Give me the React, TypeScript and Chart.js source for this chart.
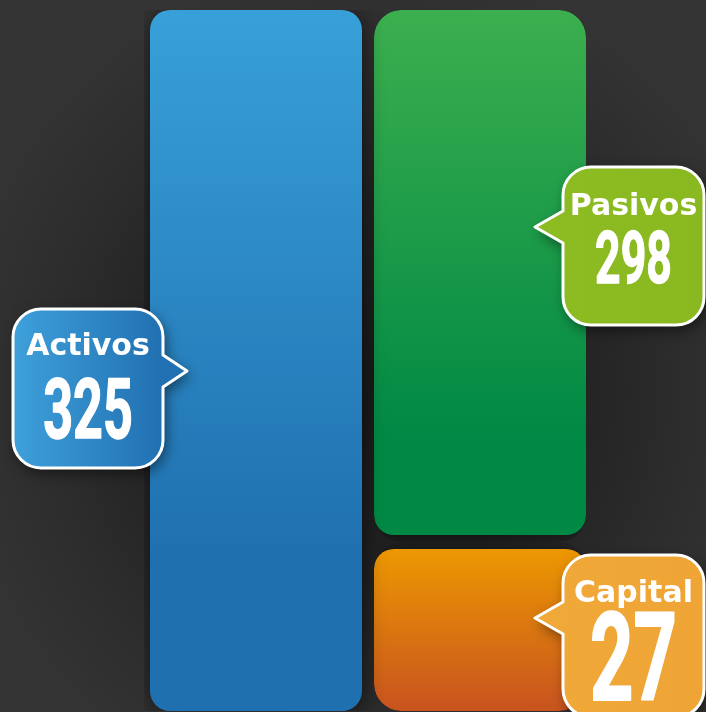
import React, { useEffect, useRef } from "react";
import { Chart, registerables } from "chart.js";

Chart.register(...registerables);

// ---- data ----
const categories = ["Activos", "Pasivos + Capital"];
const seriesLabels = ["Activos", "Capital", "Pasivos"];
const activosValues = [325, null];
const capitalValues = [null, 27];
const pasivosValues = [null, 298];

const W = 706;
const H = 712;

type Callout = {
  dataset: number;
  index: number;
  side: "left" | "right";
  fill: string[];
  anchor: number;
  w: number;
  h: number;
  labelY: number;
  numY: number;
  numSize: number;
  tipInset: number;
  tipLen: number;
  tipOffY: number;
};

const callouts: Callout[] = [
  { dataset: 0, index: 0, side: "left", fill: ["#3ea0da", "#2170b1"], anchor: 0.515, w: 150, h: 159, labelY: 46, numY: 129, numSize: 84, tipInset: 37, tipLen: 24, tipOffY: 62 },
  { dataset: 2, index: 1, side: "right", fill: ["#8dbb22", "#8ab820"], anchor: 0.408, w: 141, h: 158, labelY: 48, numY: 116, numSize: 72, tipInset: 51, tipLen: 28, tipOffY: 60 },
  { dataset: 1, index: 1, side: "right", fill: ["#f0a838", "#eea535"], anchor: 0.45, w: 141, h: 162, labelY: 47, numY: 145, numSize: 122, tipInset: 51, tipLen: 28, tipOffY: 63 },
];

const datasetValues = [activosValues, capitalValues, pasivosValues];

const radiusAll = (r: number) => ({ topLeft: r, topRight: r, bottomLeft: r, bottomRight: r });

function vGrad(ctx: any, chart: any, fromVal: number, toVal: number, stops: [number, string][]) {
  const { chartArea, scales } = chart;
  if (!chartArea || !scales || !scales.y) return stops[0][1];
  const y0 = scales.y.getPixelForValue(fromVal);
  const y1 = scales.y.getPixelForValue(toVal);
  const g = ctx.createLinearGradient(0, y0, 0, y1);
  stops.forEach(([o, c]) => g.addColorStop(o, c));
  return g;
}

function calloutPath(ctx: CanvasRenderingContext2D, L: number, T: number, w: number, h: number, r: number, side: "left" | "right", tipX: number, tipY: number) {
  const R = L + w;
  const B = T + h;
  const hb = 16;
  ctx.beginPath();
  ctx.moveTo(L + r, T);
  ctx.lineTo(R - r, T);
  ctx.arcTo(R, T, R, T + r, r);
  if (side === "left") {
    ctx.lineTo(R, tipY - hb);
    ctx.lineTo(tipX, tipY);
    ctx.lineTo(R, tipY + hb);
  }
  ctx.lineTo(R, B - r);
  ctx.arcTo(R, B, R - r, B, r);
  ctx.lineTo(L + r, B);
  ctx.arcTo(L, B, L, B - r, r);
  if (side === "right") {
    ctx.lineTo(L, tipY + hb);
    ctx.lineTo(tipX, tipY);
    ctx.lineTo(L, tipY - hb);
  }
  ctx.lineTo(L, T + r);
  ctx.arcTo(L, T, L + r, T, r);
  ctx.closePath();
}

const shadowPlugin = {
  id: "barShadow",
  beforeDatasetsDraw(chart: any) {
    const ctx = chart.ctx;
    ctx.save();
    ctx.shadowColor = "rgba(0,0,0,0.55)";
    ctx.shadowBlur = 22;
    ctx.shadowOffsetX = 0;
    ctx.shadowOffsetY = 2;
  },
  afterDatasetsDraw(chart: any) {
    chart.ctx.restore();
  },
};

const calloutPlugin = {
  id: "callouts",
  afterDraw(chart: any) {
    const ctx: CanvasRenderingContext2D = chart.ctx;
    callouts.forEach((c) => {
      const el = chart.getDatasetMeta(c.dataset).data[c.index];
      if (!el) return;
      const p = el.getProps(["x", "y", "base", "width"], true);
      const top = Math.min(p.y, p.base);
      const bottom = Math.max(p.y, p.base);
      const tipY = top + c.anchor * (bottom - top);
      let tipX: number, L: number;
      if (c.side === "left") {
        tipX = p.x - p.width / 2 + c.tipInset;
        L = tipX - c.tipLen - c.w;
      } else {
        tipX = p.x + p.width / 2 - c.tipInset;
        L = tipX + c.tipLen;
      }
      const T = tipY - c.tipOffY;
      const r = 28;

      ctx.save();
      calloutPath(ctx, L, T, c.w, c.h, r, c.side, tipX, tipY);
      const g = ctx.createLinearGradient(L, T, L + c.w, T);
      g.addColorStop(0, c.fill[0]);
      g.addColorStop(1, c.fill[1]);
      ctx.shadowColor = "rgba(0,0,0,0.5)";
      ctx.shadowBlur = 14;
      ctx.shadowOffsetX = 3;
      ctx.shadowOffsetY = 5;
      ctx.fillStyle = g;
      ctx.fill();
      ctx.shadowColor = "transparent";
      ctx.lineWidth = 3;
      ctx.strokeStyle = "#ffffff";
      ctx.lineJoin = "round";
      ctx.stroke();
      ctx.restore();

      const cx = L + c.w / 2;
      ctx.save();
      ctx.fillStyle = "#ffffff";
      ctx.strokeStyle = "#ffffff";
      ctx.textAlign = "center";
      ctx.textBaseline = "alphabetic";
      ctx.font = "bold 30px 'DejaVu Sans'";
      ctx.fillText(seriesLabels[c.dataset], cx, T + c.labelY, c.w - 8);
      const val = datasetValues[c.dataset][c.index];
      ctx.translate(cx, T + c.numY);
      ctx.scale(0.62, 1);
      ctx.font = `bold ${c.numSize}px Roboto`;
      ctx.lineWidth = c.numSize / 55;
      ctx.lineJoin = "round";
      ctx.fillText(String(val), 0, 0);
      ctx.strokeText(String(val), 0, 0);
      ctx.restore();
    });
  },
};

export default function App() {
  const ref = useRef<HTMLCanvasElement | null>(null);

  useEffect(() => {
    if (!ref.current) return;
    const chart = new Chart(ref.current, {
      type: "bar",
      data: {
        labels: categories,
        datasets: [
          {
            label: seriesLabels[0],
            data: activosValues as any,
            backgroundColor: (ctx: any) =>
              vGrad(ctx.chart.ctx, ctx.chart, 325, 0, [
                [0, "#38a0d9"],
                [0.78, "#1f70af"],
                [1, "#1f70af"],
              ]),
            borderRadius: radiusAll(20),
            borderSkipped: false,
            borderWidth: 0,
          },
          {
            label: seriesLabels[1],
            data: capitalValues as any,
            backgroundColor: (ctx: any) =>
              vGrad(ctx.chart.ctx, ctx.chart, 27, 0, [
                [0, "#ee9b00"],
                [1, "#c8531f"],
              ]),
            borderColor: "rgba(0,0,0,0)",
            borderWidth: { top: 7, bottom: 0, left: 0, right: 0 },
            borderRadius: radiusAll(27),
            borderSkipped: false,
          },
          {
            label: seriesLabels[2],
            data: pasivosValues as any,
            backgroundColor: (ctx: any) =>
              vGrad(ctx.chart.ctx, ctx.chart, 325, 27, [
                [0, "#3caf4e"],
                [0.8, "#008944"],
                [1, "#008944"],
              ]),
            borderColor: "rgba(0,0,0,0)",
            borderWidth: { top: 0, bottom: 7, left: 0, right: 0 },
            borderRadius: radiusAll(27),
            borderSkipped: false,
          },
        ],
      },
      options: {
        animation: false,
        responsive: false,
        maintainAspectRatio: false,
        layout: { padding: { left: 144, right: 114, top: 10, bottom: 1 } },
        datasets: { bar: { categoryPercentage: 1, barPercentage: 212 / 224 } } as any,
        scales: {
          x: { stacked: true, display: false, offset: true },
          y: { type: "logarithmic", stacked: true, min: 12.25, max: 325, bounds: "data", display: false } as any,
        },
        plugins: {
          legend: { display: false },
          tooltip: { enabled: false },
        },
      },
      plugins: [shadowPlugin, calloutPlugin],
    });
    return () => chart.destroy();
  }, []);

  return (
    <div
      style={{
        position: "fixed",
        left: 0,
        top: 0,
        width: W,
        height: H,
        overflow: "hidden",
        background:
          "radial-gradient(ellipse 60% 62% at 52% 55%, #1a1a1a 0%, #222222 45%, #2e2e2e 80%, #343434 100%)",
      }}
    >
      <canvas ref={ref} width={W} height={H} style={{ display: "block", width: W, height: H }} />
    </div>
  );
}
